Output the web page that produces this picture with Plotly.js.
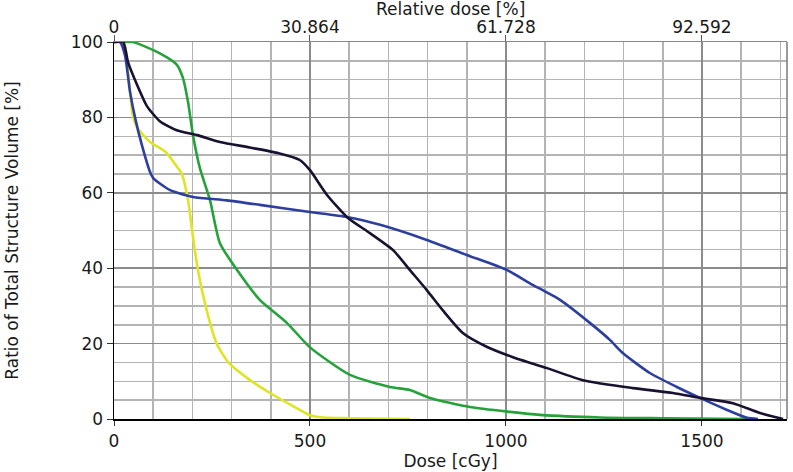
<!DOCTYPE html>
<html>
<head>
<meta charset="utf-8">
<script src="https://cdn.plot.ly/plotly-3.0.1.min.js"></script>
<style>html,body{margin:0;padding:0;background:#fff;}#chart{width:793px;height:472px;}</style>
</head>
<body>
<div id="chart"></div>
<script>
// Dose axis [cGy]; prescription dose used for the relative-dose axis
const prescriptionDose = 1620;
const doseMax = 1717;
const relTickVals = [0, 30.864, 61.728, 92.592];
const relTickText = ['0', '30.864', '61.728', '92.592'];

// Yellow structure
const yellowDose = [0, 25, 36, 48, 61, 92, 130, 160, 173, 189, 198, 214, 236, 262, 292, 347, 398, 450, 500, 533, 600, 755];
const yellowVol  = [100, 100, 92, 80.6, 77, 73.5, 71, 67, 65, 58, 51, 39.5, 29, 20, 15, 10.3, 6.9, 3.8, 1, 0.4, 0.2, 0];

// Green structure
const greenDose = [0, 48, 117, 160, 176, 189, 202, 219, 245, 270, 314, 372, 441, 500, 602, 704, 755, 806, 908, 1010, 1087, 1240, 1400, 1615];
const greenVol  = [100, 100, 97, 94, 90.4, 84, 75, 66.6, 58, 46.7, 39.5, 31.6, 25.5, 19, 11.7, 8.5, 7.7, 5.6, 3.2, 1.9, 1.1, 0.4, 0.2, 0];

// Blue structure
const blueDose = [0, 15, 28, 41, 54, 71, 92, 100, 143, 202, 288, 372, 500, 594, 679, 798, 900, 1003, 1061, 1138, 1214, 1265, 1298, 1367, 1436, 1495, 1564, 1615, 1643];
const blueVol  = [100, 100, 96.5, 86.7, 79.8, 72.7, 65.5, 63.9, 60.7, 58.9, 58, 56.8, 54.9, 53.6, 51.5, 47.5, 43.5, 39.5, 36, 31.6, 25.5, 21, 17.5, 12.2, 8.5, 5.6, 2.4, 0.3, 0];

// Black structure
const blackDose = [0, 23, 36, 59, 84, 117, 160, 212, 270, 347, 420, 474, 500, 543, 597, 653, 712, 755, 798, 839, 890, 952, 1018, 1105, 1196, 1324, 1426, 1495, 1579, 1648, 1707];
const blackVol  = [100, 100, 94.6, 88.6, 83, 79, 76.6, 75.3, 73.5, 72, 70.5, 68.7, 66, 59.5, 53.3, 49.3, 44.8, 39.5, 34.2, 28.8, 22.8, 19.1, 16.4, 13.5, 10.3, 8.2, 6.9, 5.6, 4.2, 1.6, 0];

const series = [
  {x: yellowDose, y: yellowVol, color: '#dfe427'},
  {x: greenDose,  y: greenVol,  color: '#25a23a'},
  {x: blueDose,   y: blueVol,   color: '#2d3f9e'},
  {x: blackDose,  y: blackVol,  color: '#1a1030'}
];

const traces = series.map(s => ({
  x: s.x, y: s.y, type: 'scatter', mode: 'lines',
  line: {color: s.color, width: 2.6, shape: 'spline', smoothing: 0.6},
  hoverinfo: 'skip', showlegend: false
}));
// invisible trace to bind the relative-dose axis
traces.push({x: [0, doseMax / prescriptionDose * 100], y: [0, 0], xaxis: 'x2', yaxis: 'y',
  mode: 'lines', line: {width: 0, color: 'rgba(0,0,0,0)'}, hoverinfo: 'skip', showlegend: false});

const tickFont = {family: 'DejaVu Sans, Verdana, sans-serif', size: 17, color: '#1a1a1a'};
const titleFont = {family: 'DejaVu Sans, Verdana, sans-serif', size: 17, color: '#1a1a1a'};

const layout = {
  width: 793, height: 472,
  margin: {l: 114, r: 6, t: 42, b: 53},
  paper_bgcolor: '#ffffff', plot_bgcolor: '#ffffff',
  font: tickFont,
  showlegend: false,
  xaxis: {
    range: [0, doseMax], dtick: 500, tick0: 0,
    showgrid: true, gridcolor: '#8c8c8c', gridwidth: 1.5,
    minor: {dtick: 100, showgrid: true, gridcolor: '#b4b4b4', gridwidth: 1.5},
    showline: true, linecolor: '#000000', linewidth: 1.5,
    ticks: 'outside', ticklen: 5, tickcolor: '#333', tickwidth: 1,
    tickfont: tickFont, ticklabelstandoff: 1,
    zeroline: false, automargin: false,
    title: {text: 'Dose [cGy]', font: titleFont, standoff: 0}
  },
  xaxis2: {
    overlaying: 'x', side: 'top', anchor: 'y',
    range: [0, doseMax / prescriptionDose * 100],
    tickmode: 'array', tickvals: relTickVals, ticktext: relTickText,
    showgrid: false, zeroline: false,
    showline: true, linecolor: '#888888', linewidth: 1.5,
    ticks: 'outside', ticklen: 6, tickcolor: '#555', tickwidth: 1,
    tickfont: tickFont, ticklabelstandoff: -5,
    automargin: false
  },
  yaxis: {
    range: [0, 100], dtick: 20, tick0: 0,
    showgrid: true, gridcolor: '#8c8c8c', gridwidth: 1.5,
    minor: {dtick: 5, showgrid: true, gridcolor: '#b4b4b4', gridwidth: 1.5},
    showline: true, linecolor: '#000000', linewidth: 1.5,
    ticks: 'outside', ticklen: 6, tickcolor: '#333', tickwidth: 1,
    tickfont: tickFont,
    zeroline: false, automargin: false,
    title: {text: 'Ratio of Total Structure Volume [%]', font: titleFont, standoff: 47}
  },
  annotations: [
    {text: 'Relative dose [%]', xref: 'paper', yref: 'paper', x: 0.5, y: 1 + (42 - 8.5) / 377,
     xanchor: 'center', yanchor: 'middle', showarrow: false, font: titleFont}
  ],
  shapes: [
    {type: 'line', xref: 'paper', yref: 'paper', x0: 1, x1: 1, y0: 0, y1: 1,
     line: {color: '#7a7a7a', width: 1.5}}
  ]
};

Plotly.newPlot('chart', traces, layout, {displayModeBar: false, staticPlot: true});
</script>
</body>
</html>
